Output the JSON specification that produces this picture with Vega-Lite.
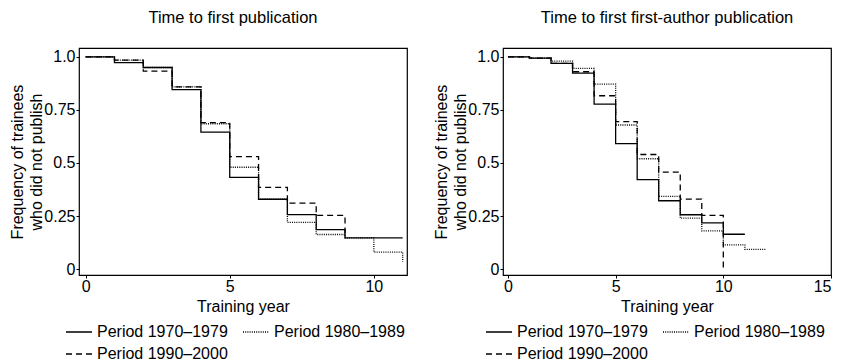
{
  "$schema": "https://vega.github.io/schema/vega-lite/v6.json",
  "padding": {"left": 9, "top": 8, "right": 5, "bottom": 0},
  "datasets": {
    "pub": [
      {"year": 0, "value": 1.0, "period": "Period 1970–1979"},
      {"year": 1, "value": 0.973, "period": "Period 1970–1979"},
      {"year": 2, "value": 0.95, "period": "Period 1970–1979"},
      {"year": 3, "value": 0.846, "period": "Period 1970–1979"},
      {"year": 4, "value": 0.645, "period": "Period 1970–1979"},
      {"year": 5, "value": 0.432, "period": "Period 1970–1979"},
      {"year": 6, "value": 0.329, "period": "Period 1970–1979"},
      {"year": 7, "value": 0.257, "period": "Period 1970–1979"},
      {"year": 8, "value": 0.186, "period": "Period 1970–1979"},
      {"year": 9, "value": 0.147, "period": "Period 1970–1979"},
      {"year": 10, "value": 0.147, "period": "Period 1970–1979"},
      {"year": 11, "value": 0.147, "period": "Period 1970–1979"},
      {"year": 0, "value": 1.0, "period": "Period 1980–1989"},
      {"year": 1, "value": 0.985, "period": "Period 1980–1989"},
      {"year": 2, "value": 0.95, "period": "Period 1980–1989"},
      {"year": 3, "value": 0.859, "period": "Period 1980–1989"},
      {"year": 4, "value": 0.685, "period": "Period 1980–1989"},
      {"year": 5, "value": 0.48, "period": "Period 1980–1989"},
      {"year": 6, "value": 0.329, "period": "Period 1980–1989"},
      {"year": 7, "value": 0.22, "period": "Period 1980–1989"},
      {"year": 8, "value": 0.163, "period": "Period 1980–1989"},
      {"year": 9, "value": 0.147, "period": "Period 1980–1989"},
      {"year": 10, "value": 0.08, "period": "Period 1980–1989"},
      {"year": 11, "value": 0.034, "period": "Period 1980–1989"},
      {"year": 0, "value": 1.0, "period": "Period 1990–2000"},
      {"year": 1, "value": 0.985, "period": "Period 1990–2000"},
      {"year": 2, "value": 0.933, "period": "Period 1990–2000"},
      {"year": 3, "value": 0.859, "period": "Period 1990–2000"},
      {"year": 4, "value": 0.69, "period": "Period 1990–2000"},
      {"year": 5, "value": 0.53, "period": "Period 1990–2000"},
      {"year": 6, "value": 0.385, "period": "Period 1990–2000"},
      {"year": 7, "value": 0.311, "period": "Period 1990–2000"},
      {"year": 8, "value": 0.253, "period": "Period 1990–2000"},
      {"year": 9, "value": 0.147, "period": "Period 1990–2000"}
    ],
    "first": [
      {"year": 0, "value": 1.0, "period": "Period 1970–1979"},
      {"year": 1, "value": 0.994, "period": "Period 1970–1979"},
      {"year": 2, "value": 0.97, "period": "Period 1970–1979"},
      {"year": 3, "value": 0.924, "period": "Period 1970–1979"},
      {"year": 4, "value": 0.777, "period": "Period 1970–1979"},
      {"year": 5, "value": 0.591, "period": "Period 1970–1979"},
      {"year": 6, "value": 0.422, "period": "Period 1970–1979"},
      {"year": 7, "value": 0.322, "period": "Period 1970–1979"},
      {"year": 8, "value": 0.256, "period": "Period 1970–1979"},
      {"year": 9, "value": 0.218, "period": "Period 1970–1979"},
      {"year": 10, "value": 0.164, "period": "Period 1970–1979"},
      {"year": 11, "value": 0.164, "period": "Period 1970–1979"},
      {"year": 0, "value": 1.0, "period": "Period 1980–1989"},
      {"year": 1, "value": 0.994, "period": "Period 1980–1989"},
      {"year": 2, "value": 0.98, "period": "Period 1980–1989"},
      {"year": 3, "value": 0.946, "period": "Period 1980–1989"},
      {"year": 4, "value": 0.872, "period": "Period 1980–1989"},
      {"year": 5, "value": 0.679, "period": "Period 1980–1989"},
      {"year": 6, "value": 0.52, "period": "Period 1980–1989"},
      {"year": 7, "value": 0.343, "period": "Period 1980–1989"},
      {"year": 8, "value": 0.24, "period": "Period 1980–1989"},
      {"year": 9, "value": 0.18, "period": "Period 1980–1989"},
      {"year": 10, "value": 0.114, "period": "Period 1980–1989"},
      {"year": 11, "value": 0.093, "period": "Period 1980–1989"},
      {"year": 12, "value": 0.093, "period": "Period 1980–1989"},
      {"year": 0, "value": 1.0, "period": "Period 1990–2000"},
      {"year": 1, "value": 0.994, "period": "Period 1990–2000"},
      {"year": 2, "value": 0.97, "period": "Period 1990–2000"},
      {"year": 3, "value": 0.93, "period": "Period 1990–2000"},
      {"year": 4, "value": 0.817, "period": "Period 1990–2000"},
      {"year": 5, "value": 0.695, "period": "Period 1990–2000"},
      {"year": 6, "value": 0.54, "period": "Period 1990–2000"},
      {"year": 7, "value": 0.457, "period": "Period 1990–2000"},
      {"year": 8, "value": 0.33, "period": "Period 1990–2000"},
      {"year": 9, "value": 0.253, "period": "Period 1990–2000"},
      {"year": 10, "value": 0.0, "period": "Period 1990–2000"}
    ]
  },
  "config": {
    "font": "Liberation Sans",
    "view": {"stroke": "black", "strokeWidth": 1.2},
    "concat": {"spacing": 25},
    "title": {"font": "Liberation Sans", "fontSize": 16.5, "fontWeight": "normal", "color": "black", "offset": 22},
    "axis": {
      "grid": false, "domain": false, "tickColor": "black", "tickSize": 3, "tickWidth": 1,
      "labelColor": "black", "labelFont": "Liberation Sans", "labelFontSize": 16, "labelPadding": 1,
      "titleColor": "black", "titleFont": "Liberation Sans", "titleFontSize": 16, "titleFontWeight": "normal"
    },
    "axisY": {"titlePadding": -1, "titleLineHeight": 19, "labelPadding": 1},
    "axisX": {"titlePadding": 4, "labelPadding": 0},
    "legend": {
      "orient": "none", "direction": "horizontal", "columns": 2,
      "symbolType": "stroke", "symbolSize": 676, "symbolStrokeWidth": 1.3, "symbolStrokeColor": "black",
      "labelFont": "Liberation Sans", "labelFontSize": 16, "labelColor": "black", "labelOffset": 4,
      "columnPadding": 12, "rowPadding": -6
    }
  },
  "resolve": {"scale": {"x": "independent", "y": "independent", "strokeDash": "independent", "strokeWidth": "independent"}, "legend": {"strokeDash": "independent"}},
  "hconcat": [
    {
      "width": 328, "height": 227,
      "title": {"text": "Time to first publication", "dx": -10},
      "data": {"name": "pub"},
      "mark": {"type": "line", "interpolate": "step-after", "color": "black", "strokeWidth": 1.3},
      "encoding": {
        "x": {"field": "year", "type": "quantitative", "scale": {"domain": [-0.23, 11.15], "nice": false, "zero": false},
              "axis": {"values": [0, 5, 10], "title": "Training year"}},
        "y": {"field": "value", "type": "quantitative", "scale": {"domain": [-0.028, 1.042], "nice": false, "zero": false},
              "axis": {"values": [0, 0.25, 0.5, 0.75, 1], "labelExpr": "datum.value == 1 ? '1.0' : format(datum.value, '~g')", "title": ["Frequency of trainees", "who did not publish"]}},
        "strokeDash": {"field": "period", "type": "nominal",
          "scale": {"domain": ["Period 1970–1979", "Period 1980–1989", "Period 1990–2000"], "range": [[1, 0], [1, 1.2], [6, 4]]},
          "legend": {"title": null, "legendX": -14, "legendY": 270}},
        "strokeWidth": {"field": "period", "type": "nominal",
          "scale": {"domain": ["Period 1970–1979", "Period 1980–1989", "Period 1990–2000"], "range": [1.3, 1.3, 1.7]}, "legend": null}
      }
    },
    {
      "width": 328, "height": 227,
      "title": {"text": "Time to first first-author publication"},
      "data": {"name": "first"},
      "mark": {"type": "line", "interpolate": "step-after", "color": "black", "strokeWidth": 1.3},
      "encoding": {
        "x": {"field": "year", "type": "quantitative", "scale": {"domain": [-0.23, 15], "nice": false, "zero": false},
              "axis": {"values": [0, 5, 10, 15], "title": "Training year"}},
        "y": {"field": "value", "type": "quantitative", "scale": {"domain": [-0.028, 1.042], "nice": false, "zero": false},
              "axis": {"values": [0, 0.25, 0.5, 0.75, 1], "labelExpr": "datum.value == 1 ? '1.0' : format(datum.value, '~g')", "title": ["Frequency of trainees", "who did not publish"]}},
        "strokeDash": {"field": "period", "type": "nominal",
          "scale": {"domain": ["Period 1970–1979", "Period 1980–1989", "Period 1990–2000"], "range": [[1, 0], [1, 1.2], [6, 4]]},
          "legend": {"title": null, "legendX": -18, "legendY": 270}},
        "strokeWidth": {"field": "period", "type": "nominal",
          "scale": {"domain": ["Period 1970–1979", "Period 1980–1989", "Period 1990–2000"], "range": [1.3, 1.3, 1.7]}, "legend": null}
      }
    }
  ]
}
